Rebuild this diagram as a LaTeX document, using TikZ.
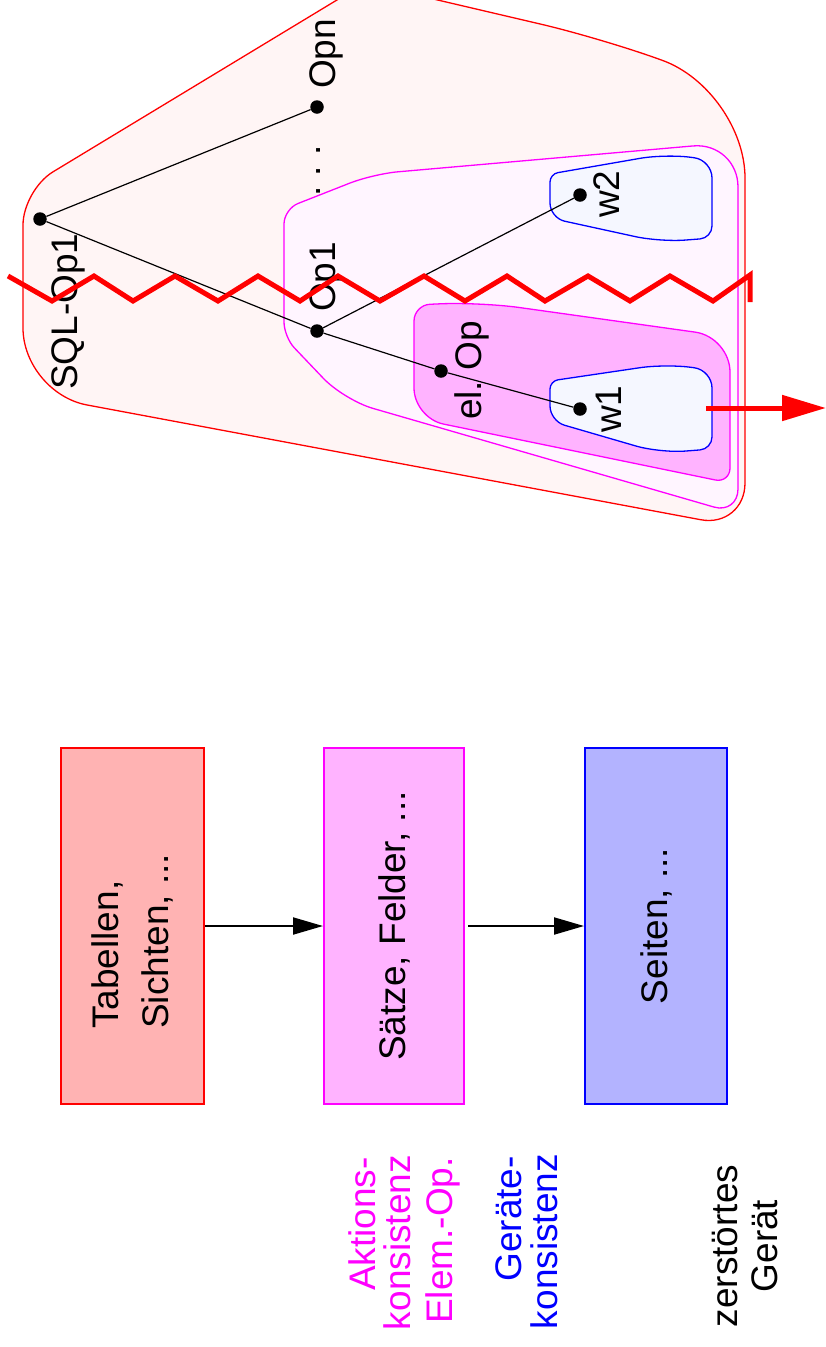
\documentclass[tikz,border=0pt]{standalone}
\usepackage{fontspec}
\setmainfont{Liberation Sans}
\usetikzlibrary{arrows.meta}
\definecolor{outerfill}{RGB}{255,245,245}
\definecolor{midfill}{RGB}{255,245,255}
\definecolor{elfill}{RGB}{255,179,255}
\definecolor{wfill}{RGB}{245,247,255}
\definecolor{redbox}{RGB}{255,179,179}
\definecolor{bluebox}{RGB}{179,179,255}
\definecolor{mag}{RGB}{255,0,255}
\definecolor{pureblue}{RGB}{0,0,255}
\definecolor{purered}{RGB}{255,0,0}
\begin{document}
\begin{tikzpicture}[x=1pt,y=-1pt,
  lbl/.style={rotate=90, inner sep=0pt, font=\fontsize{37}{44}\selectfont\frenchspacing},
  dotn/.style={circle, fill=black, inner sep=0pt, minimum size=13.5pt},
  tree/.style={line width=1.2pt},
  blob/.style={line width=1.3pt},
  boxst/.style={rotate=90, line width=2pt, minimum width=356pt, font=\fontsize{37}{44}\selectfont\frenchspacing},
  flow/.style={line width=2pt, -{Triangle[length=30pt,width=17pt]}},
  zig/.style={draw=purered, line width=5pt},
  bigarrow/.style={draw=purered, line width=5pt, -{Triangle[length=44pt,width=25pt]}}]
\useasboundingbox (0,0) rectangle (826,1347);
\clip (0,0) rectangle (826,1347);

% outer region (SQL operation)
\path[blob, draw=purered, fill=outerfill]
  (23,300) [rounded corners=65pt] -- (23,393) [rounded corners=45pt] -- (745,528)
  [rounded corners=88pt] -- (745,90) [rounded corners=60pt] -- (600,38)
  [rounded corners=20pt] -- (365,-17) [rounded corners=35pt] -- (23,190) [sharp corners] -- cycle;
% Op1 region
\path[blob, draw=mag, fill=midfill]
  (284,280) [rounded corners=15pt] -- (284,209) [rounded corners=25pt] -- (373,174)
  [rounded corners=45pt] -- (738,142) [rounded corners=25pt] -- (738,514)
  [rounded corners=30pt] -- (344,400) [rounded corners=15pt] -- (284,337) [sharp corners] -- cycle;
% elementary operation region
\path[blob, draw=mag, fill=elfill]
  (414,360) [rounded corners=16pt] -- (414,305) [rounded corners=40pt] -- (480,302)
  [rounded corners=35pt] -- (730,337) [rounded corners=15pt] -- (730,483)
  [rounded corners=30pt] -- (414,418) [sharp corners] -- cycle;
% w2 region
\path[blob, draw=pureblue, fill=wfill]
  (550,195) [rounded corners=8pt] -- (550,174) [rounded corners=25pt] -- (665,154)
  [rounded corners=18pt] -- (712,160) [rounded corners=12pt] -- (712,238)
  [rounded corners=25pt] -- (660,242) [rounded corners=15pt] -- (550,218) [sharp corners] -- cycle;
% w1 region
\path[blob, draw=pureblue, fill=wfill]
  (550,400) [rounded corners=8pt] -- (550,381) [rounded corners=25pt] -- (665,364)
  [rounded corners=18pt] -- (712,370) [rounded corners=12pt] -- (712,449)
  [rounded corners=25pt] -- (660,453) [rounded corners=15pt] -- (550,421) [sharp corners] -- cycle;

% tree
\node[dotn] (sql) at (40,219) {};
\node[dotn] (opn) at (317,107) {};
\node[dotn] (op1) at (317,331) {};
\node[dotn] (elop) at (441,371) {};
\node[dotn] (w2) at (580,195) {};
\node[dotn] (w1) at (580,409) {};
\draw[tree] (sql) -- (opn);
\draw[tree] (sql) -- (op1);
\draw[tree] (op1) -- (w2);
\draw[tree] (op1) -- (elop);
\draw[tree] (elop) -- (w1);

\node[lbl, anchor=base west] (tsql) at (77,390) {SQL-Op1};
\node[lbl, anchor=base west] (topn) at (335,89) {Opn};
\node[lbl, anchor=base west] (tdots) at (320,197) {. . .};
\node[lbl, anchor=base west] (top1) at (335,312) {Op1};
\node[lbl, anchor=base west] (tel) at (481,420) {el. Op};
\node[lbl, anchor=base west] (tw1) at (621,433) {w1};
\node[lbl, anchor=base west] (tw2) at (619,218) {w2};

% crash line
\draw[zig] (8,276) -- (52,301) -- (94,276) -- (133,301) -- (175,276) -- (218,301)
  -- (258,276) -- (300,301) -- (338,276) -- (380,301) -- (424,276) -- (465,301)
  -- (507,276) -- (545,301) -- (588,276) -- (630,301) -- (670,276) -- (713,301)
  -- (750,275) -- (750,302);
\coordinate (rs) at (706,408);
\coordinate (re) at (826,408);
\draw[bigarrow] (rs) -- (re);

% layers
\node[boxst, draw=purered, fill=redbox, minimum height=143pt] (b1) at (132.5,926) {};
\node[boxst, draw=mag, fill=elfill, minimum height=140pt] (b2) at (394,926) {Sätze, Felder, ...};
\node[boxst, draw=pureblue, fill=bluebox, minimum height=142pt] (b3) at (656,926) {Seiten, ...};
\node[lbl, anchor=base west] (tab) at (118,1029) {Tabellen,};
\node[lbl, anchor=base west] (sich) at (168,1029) {Sichten, ...};
\draw[flow] (b1) -- (b2);
\draw[flow, shorten <=3pt] (b2) -- (b3);

% bottom labels
\node[lbl, anchor=base east, text=mag] (akt) at (375,1157) {Aktions-};
\node[lbl, anchor=base east, text=mag] (kons1) at (410,1155) {konsistenz};
\node[lbl, anchor=base east, text=mag] (elem) at (452,1157) {Elem.-Op.};
\node[lbl, anchor=base east, text=pureblue] (ger) at (521,1156) {Geräte-};
\node[lbl, anchor=base east, text=pureblue] (kons2) at (557,1154) {konsistenz};
\node[lbl, anchor=base] (zer) at (737,1246) {zerstörtes};
\node[lbl, anchor=base] (gerat) at (777,1246) {Gerät};
\end{tikzpicture}
\end{document}
